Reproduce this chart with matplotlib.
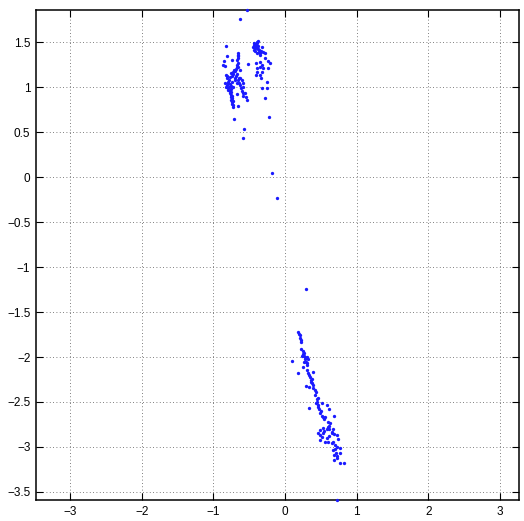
import matplotlib
matplotlib.use("Agg")
import matplotlib.pyplot as plt
import numpy as np

# Upper-left group (two stacked columns near x = -0.8 .. -0.55)
upper_left_x = [-0.825, -0.816, -0.853, -0.862, -0.839, -0.746, -0.653, -0.662, -0.653, -0.662,
                -0.676, -0.629, -0.723, -0.755, -0.699, -0.825, -0.769, -0.793, -0.839, -0.816,
                -0.825, -0.746, -0.699, -0.676, -0.653, -0.629, -0.606, -0.592, -0.583, -0.723,
                -0.793, -0.769, -0.760, -0.746, -0.732, -0.723, -0.667, -0.653, -0.560, -0.546,
                -0.536, -0.709, -0.573, -0.583,
                -0.771, -0.760, -0.752, -0.765, -0.748, -0.757, -0.740, -0.752, -0.738, -0.745,
                -0.728, -0.735, -0.782, -0.790, -0.800, -0.777, -0.705, -0.690, -0.668, -0.648,
                -0.640, -0.625, -0.615, -0.600, -0.592, -0.585, -0.658, -0.665, -0.657, -0.670,
                -0.680, -0.712, -0.725, -0.735, -0.815, -0.805]
upper_left_y = [1.456, 1.344, 1.293, 1.244, 1.233, 1.300, 1.382, 1.356, 1.319, 1.263,
                1.226, 1.189, 1.170, 1.159, 1.181, 1.133, 1.107, 1.059, 1.048, 1.022,
                0.996, 1.059, 1.078, 1.041, 1.078, 1.096, 1.078, 1.041, 0.996, 0.996,
                0.967, 0.930, 0.893, 0.856, 0.800, 0.774, 0.922, 0.789, 0.930, 0.893,
                0.856, 0.644, 0.530, 0.437,
                1.030, 1.010, 0.980, 0.960, 0.950, 0.910, 0.880, 0.860, 0.830, 0.810,
                0.840, 0.900, 1.000, 0.990, 1.050, 1.080, 1.100, 1.120, 1.150, 1.100,
                1.050, 1.020, 0.990, 0.960, 0.930, 0.900, 1.220, 1.300, 1.340, 1.250,
                1.200, 1.190, 1.140, 1.120, 1.100, 1.120]

# Upper-right group (around x = -0.4 .. -0.2)
upper_right_x = [-0.536, -0.629, -0.429, -0.373, -0.406, -0.443, -0.396, -0.359, -0.420, -0.326,
                 -0.303, -0.280, -0.387, -0.350, -0.513, -0.410, -0.350, -0.326, -0.280, -0.233,
                 -0.210, -0.396, -0.350, -0.303, -0.233, -0.396, -0.326, -0.350, -0.406, -0.340,
                 -0.256, -0.326, -0.256, -0.280, -0.219,
                 -0.420, -0.400, -0.390, -0.380, -0.415, -0.435, -0.365, -0.345, -0.330, -0.440,
                 -0.372, -0.395]
upper_right_y = [1.856, 1.752, 1.492, 1.511, 1.467, 1.448, 1.430, 1.411, 1.404, 1.448,
                 1.393, 1.374, 1.374, 1.356, 1.252, 1.263, 1.281, 1.244, 1.319, 1.289,
                 1.270, 1.207, 1.226, 1.207, 1.207, 1.170, 1.170, 1.133, 1.133, 1.096,
                 1.059, 0.985, 0.985, 0.874, 0.670,
                 1.470, 1.450, 1.490, 1.420, 1.430, 1.410, 1.390, 1.380, 1.400, 1.470,
                 1.460, 1.500]

# Scattered points between the groups
middle_x = [-0.182, -0.107, 0.289]
middle_y = [0.048, -0.237, -1.244]

# Lower group (diagonal band from x = 0.1 to 0.85)
lower_x = [0.186, 0.196, 0.210, 0.224, 0.219, 0.247, 0.266, 0.238, 0.266, 0.303,
           0.280, 0.326, 0.294, 0.312, 0.103, 0.256, 0.186, 0.312, 0.326, 0.350,
           0.373, 0.396, 0.359, 0.387, 0.294, 0.340, 0.396, 0.419, 0.433, 0.466,
           0.443, 0.433, 0.513, 0.583, 0.466, 0.340, 0.480, 0.620, 0.489, 0.513,
           0.536, 0.559, 0.690, 0.606, 0.629, 0.620, 0.527, 0.489, 0.583, 0.620,
           0.667, 0.456, 0.536, 0.652, 0.685, 0.722, 0.489, 0.513, 0.583, 0.489,
           0.559, 0.606, 0.676, 0.746, 0.699, 0.722, 0.769, 0.676, 0.713, 0.769,
           0.685, 0.722, 0.690, 0.769, 0.830, 0.723,
           0.215, 0.230, 0.250, 0.285, 0.270, 0.300, 0.335, 0.360, 0.370, 0.420,
           0.440, 0.460, 0.500, 0.550, 0.600, 0.650, 0.550, 0.610, 0.660, 0.700,
           0.730]
lower_y = [-1.719, -1.744, -1.793, -1.811, -1.915, -1.930, -1.952, -1.985, -1.989, -1.996,
           -2.022, -2.022, -2.052, -2.070, -2.041, -2.107, -2.181, -2.144, -2.181, -2.219,
           -2.248, -2.163, -2.274, -2.311, -2.322, -2.330, -2.348, -2.367, -2.385, -2.459,
           -2.496, -2.515, -2.515, -2.533, -2.552, -2.570, -2.581, -2.581, -2.619, -2.656,
           -2.663, -2.670, -2.652, -2.719, -2.730, -2.767, -2.793, -2.811, -2.804, -2.804,
           -2.804, -2.841, -2.841, -2.848, -2.856, -2.867, -2.867, -2.893, -2.904, -2.922,
           -2.941, -2.941, -2.941, -2.915, -2.978, -2.996, -3.015, -3.033, -3.063, -3.063,
           -3.089, -3.126, -3.144, -3.181, -3.181, -3.589,
           -1.760, -1.830, -1.970, -2.000, -2.050, -2.090, -2.200, -2.250, -2.290, -2.420,
           -2.470, -2.530, -2.600, -2.690, -2.780, -2.830, -2.820, -2.880, -2.960, -3.020,
           -3.100]

x_ticks = [-3, -2, -1, 0, 1, 2, 3]
y_ticks = [-3.5, -3, -2.5, -2, -1.5, -1, -0.5, 0, 0.5, 1, 1.5]
x_tick_labels = ["\u22123", "\u22122", "\u22121", "0", "1", "2", "3"]
y_tick_labels = ["\u22123.5", "\u22123", "\u22122.5", "\u22122", "\u22121.5", "\u22121",
                 "\u22120.5", "0", "0.5", "1", "1.5"]

plt.rcParams['font.family'] = ['Liberation Sans', 'DejaVu Sans']

fig = plt.figure(figsize=(5.24, 5.21), dpi=100)
ax = fig.add_axes([36 / 524, 21 / 521, 483 / 524, 490 / 521])

xs = np.concatenate([upper_left_x, upper_right_x, middle_x, lower_x])
ys = np.concatenate([upper_left_y, upper_right_y, middle_y, lower_y])
ax.plot(xs, ys, linestyle='none', marker='o', markersize=2.4,
        markerfacecolor='#1a1aff', markeredgewidth=0, zorder=3, clip_on=False)

ax.set_xlim(-3.476, 3.266)
ax.set_ylim(-3.589, 1.856)
ax.set_xticks(x_ticks)
ax.set_xticklabels(x_tick_labels)
ax.set_yticks(y_ticks)
ax.set_yticklabels(y_tick_labels)

ax.grid(True, linestyle=(0, (1, 3)), color='#555555', linewidth=0.6)
ax.tick_params(direction='in', length=5, width=0.8, top=True, right=True,
               labelsize=8.5, pad=4)
for s in ax.spines.values():
    s.set_linewidth(1.1)
    s.set_color('black')

fig.savefig("out.png", dpi=100)
